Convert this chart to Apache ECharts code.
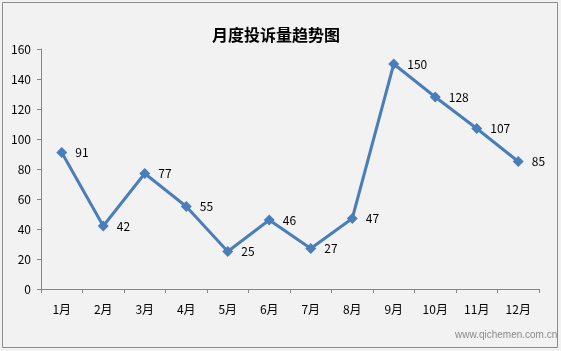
<!DOCTYPE html>
<html>
<head>
<meta charset="utf-8">
<script src="https://cdn.jsdelivr.net/npm/echarts@6/dist/echarts.min.js"></script>
<style>
  html, body { margin: 0; padding: 0; background: #fff; }
  #chart { width: 561px; height: 351px; }
</style>
</head>
<body>
<div id="chart"></div>
<script>
const months = ['1月', '2月', '3月', '4月', '5月', '6月', '7月', '8月', '9月', '10月', '11月', '12月']
const complaints = [91, 42, 77, 55, 25, 46, 27, 47, 150, 128, 107, 85]

const chart = echarts.init(document.getElementById('chart'))
chart.setOption({
  animation: false,
  backgroundColor: '#F2F2F2',
  textStyle: { fontFamily: 'Noto Sans CJK SC, sans-serif' },
  title: {
    text: '月度投诉量趋势图',
    left: 207,
    top: 22,
    textStyle: { fontSize: 16, fontWeight: 'bold', color: '#000' },
  },
  graphic: [
    {
      type: 'rect',
      shape: { x: 2.5, y: 2.5, width: 555, height: 345 },
      style: { fill: 'none', stroke: '#8C8C8C', lineWidth: 1 },
      silent: true,
    },
    {
      type: 'text',
      left: 455,
      top: 330,
      style: { text: 'www.qichemen.com.cn', fill: '#8a8a8a', fontSize: 10, fontFamily: 'Arial' },
      silent: true,
    },
  ],
  grid: { left: 41, right: 22, top: 49, bottom: 62 },
  xAxis: {
    type: 'category',
    data: months,
    boundaryGap: true,
    axisLine: { lineStyle: { color: '#868686' } },
    axisTick: { show: true, length: 4, lineStyle: { color: '#868686' } },
    axisLabel: { color: '#000', fontSize: 12, margin: 14, interval: 0 },
  },
  yAxis: {
    type: 'value',
    min: 0,
    max: 160,
    interval: 20,
    axisLine: { show: true, lineStyle: { color: '#868686' } },
    axisTick: { show: true, length: 4, lineStyle: { color: '#868686' } },
    splitLine: { show: false },
    axisLabel: { color: '#000', fontSize: 12, margin: 10 },
  },
  series: [
    {
      name: '投诉量',
      type: 'line',
      data: complaints,
      symbol: 'diamond',
      symbolSize: 11,
      lineStyle: { width: 3, color: '#4A7EBB' },
      itemStyle: { color: '#4A7EBB' },
      label: {
        show: true,
        position: 'right',
        distance: 8,
        color: '#000',
        fontSize: 12,
      },
    },
  ],
})
</script>
</body>
</html>
